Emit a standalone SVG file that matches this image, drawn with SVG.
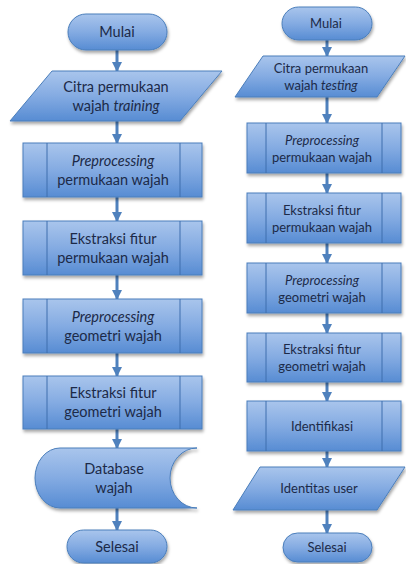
<svg xmlns="http://www.w3.org/2000/svg" width="406" height="564" viewBox="0 0 406 564">
<defs>
<linearGradient id="g" x1="0" y1="0" x2="0" y2="1">
<stop offset="0" stop-color="#a9c5ec"/>
<stop offset="0.5" stop-color="#84abe2"/>
<stop offset="1" stop-color="#578cd3"/>
</linearGradient>
<filter id="sh" x="-10%" y="-10%" width="125%" height="135%">
<feDropShadow dx="1" dy="2.5" stdDeviation="1.5" flood-color="#000" flood-opacity="0.35"/>
</filter>
<marker id="ah" markerUnits="userSpaceOnUse" markerWidth="12" markerHeight="10" refX="9" refY="5" orient="auto">
<path d="M0,0 L10,5 L0,10 Z" fill="#4f81bd"/>
</marker>
</defs>
<style>
.s{fill:url(#g);stroke:#4a7ebb;stroke-width:1;filter:url(#sh)}
.d{stroke:#3f6fae;stroke-width:1}
text{font-family:Lato,"Open Sans","Liberation Sans",sans-serif;fill:#1c2a48;text-anchor:middle}
.L{font-size:14.5px}
.R{font-size:13px}
.i{font-style:italic}
.c line{stroke:#4f81bd;stroke-width:3;marker-end:url(#ah)}
</style>
<rect width="406" height="564" fill="#fff"/>
<g class="c" id="connectors">
<line x1="117" y1="50" x2="117" y2="71"/>
<line x1="117" y1="121" x2="117" y2="143"/>
<line x1="117" y1="197" x2="117" y2="221"/>
<line x1="117" y1="275" x2="117" y2="299"/>
<line x1="117" y1="353" x2="117" y2="376"/>
<line x1="117" y1="429" x2="117" y2="448"/>
<line x1="117" y1="508" x2="117" y2="530"/>
<line x1="327" y1="40" x2="327" y2="56"/>
<line x1="327" y1="97" x2="327" y2="123"/>
<line x1="327" y1="173" x2="327" y2="193"/>
<line x1="327" y1="243" x2="327" y2="263"/>
<line x1="327" y1="313" x2="327" y2="333"/>
<line x1="327" y1="382" x2="327" y2="401"/>
<line x1="327" y1="451" x2="327" y2="467"/>
<line x1="327" y1="510" x2="327" y2="533"/>
</g>
<g id="l-mulai">
<rect class="s" x="68" y="14" width="99" height="36" rx="18"/>
<text class="L" x="117" y="37">Mulai</text>
</g>
<g id="l-citra">
<path class="s" d="M52,71 L222,71 L180,121 L10,121 Z"/>
<text class="L" x="116" y="92">Citra permukaan</text>
<text class="L" x="116" y="111">wajah <tspan class="i">training</tspan></text>
</g>
<g id="l-pre1">
<rect class="s" x="23" y="143" width="179" height="54"/>
<line class="d" x1="47" y1="143" x2="47" y2="197"/>
<line class="d" x1="180" y1="143" x2="180" y2="197"/>
<text class="L i" x="113" y="165.5">Preprocessing</text>
<text class="L" x="113" y="184.5">permukaan wajah</text>
</g>
<g id="l-eks1">
<rect class="s" x="23" y="221" width="179" height="54"/>
<line class="d" x1="47" y1="221" x2="47" y2="275"/>
<line class="d" x1="180" y1="221" x2="180" y2="275"/>
<text class="L" x="113" y="243.5">Ekstraksi fitur</text>
<text class="L" x="113" y="262.5">permukaan wajah</text>
</g>
<g id="l-pre2">
<rect class="s" x="23" y="299" width="179" height="54"/>
<line class="d" x1="47" y1="299" x2="47" y2="353"/>
<line class="d" x1="180" y1="299" x2="180" y2="353"/>
<text class="L i" x="113" y="321.5">Preprocessing</text>
<text class="L" x="113" y="340.5">geometri wajah</text>
</g>
<g id="l-eks2">
<rect class="s" x="23" y="376" width="179" height="53"/>
<line class="d" x1="47" y1="376" x2="47" y2="429"/>
<line class="d" x1="180" y1="376" x2="180" y2="429"/>
<text class="L" x="113" y="398">Ekstraksi fitur</text>
<text class="L" x="113" y="417">geometri wajah</text>
</g>
<g id="l-db">
<path class="s" d="M60,448 L197,448 A27,30 0 0 0 197,508 L60,508 A25,30 0 0 1 60,448 Z"/>
<text class="L" x="114" y="474">Database</text>
<text class="L" x="114" y="493">wajah</text>
</g>
<g id="l-selesai">
<rect class="s" x="67" y="530" width="100" height="33" rx="16.5"/>
<text class="L" x="117" y="551.5">Selesai</text>
</g>
<g id="r-mulai">
<rect class="s" x="282" y="7" width="90" height="33" rx="16.5"/>
<text class="R" x="326" y="28">Mulai</text>
</g>
<g id="r-citra">
<path class="s" d="M263,56 L405,56 L377,97 L235,97 Z"/>
<text class="R" x="321" y="73">Citra permukaan</text>
<text class="R" x="321" y="90">wajah <tspan class="i">testing</tspan></text>
</g>
<g id="r-pre1">
<rect class="s" x="247" y="123" width="154" height="50"/>
<line class="d" x1="266" y1="123" x2="266" y2="173"/>
<line class="d" x1="382" y1="123" x2="382" y2="173"/>
<text class="R i" x="322" y="144.5">Preprocessing</text>
<text class="R" x="322" y="161.5">permukaan wajah</text>
</g>
<g id="r-eks1">
<rect class="s" x="247" y="193" width="154" height="50"/>
<line class="d" x1="266" y1="193" x2="266" y2="243"/>
<line class="d" x1="382" y1="193" x2="382" y2="243"/>
<text class="R" x="322" y="214.5">Ekstraksi fitur</text>
<text class="R" x="322" y="231.5">permukaan wajah</text>
</g>
<g id="r-pre2">
<rect class="s" x="247" y="263" width="154" height="50"/>
<line class="d" x1="266" y1="263" x2="266" y2="313"/>
<line class="d" x1="382" y1="263" x2="382" y2="313"/>
<text class="R i" x="322" y="284.5">Preprocessing</text>
<text class="R" x="322" y="301.5">geometri wajah</text>
</g>
<g id="r-eks2">
<rect class="s" x="247" y="333" width="154" height="49"/>
<line class="d" x1="266" y1="333" x2="266" y2="382"/>
<line class="d" x1="382" y1="333" x2="382" y2="382"/>
<text class="R" x="322" y="354">Ekstraksi fitur</text>
<text class="R" x="322" y="371">geometri wajah</text>
</g>
<g id="r-ident">
<rect class="s" x="247" y="401" width="154" height="50"/>
<line class="d" x1="266" y1="401" x2="266" y2="451"/>
<line class="d" x1="382" y1="401" x2="382" y2="451"/>
<text class="R" x="322" y="430.5">Identifikasi</text>
</g>
<g id="r-identitas">
<path class="s" d="M260,467 L405,467 L377,510 L233,510 Z"/>
<text class="R" x="319" y="493">Identitas user</text>
</g>
<g id="r-selesai">
<rect class="s" x="283" y="533" width="89" height="29" rx="14.5"/>
<text class="R" x="327" y="552">Selesai</text>
</g>
</svg>
